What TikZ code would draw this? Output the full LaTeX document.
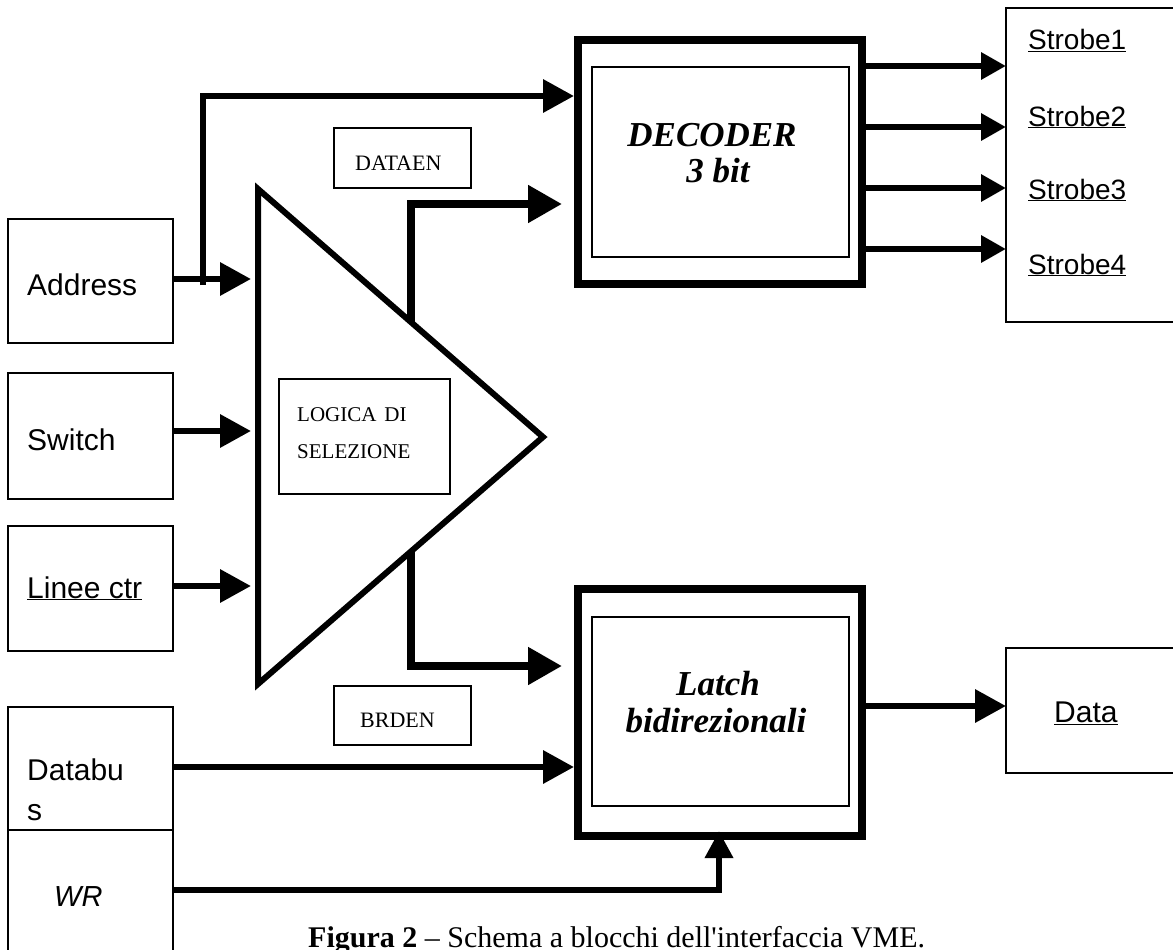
\documentclass[tikz,border=0pt]{standalone}
\usepackage{fontspec}
\setmainfont{Liberation Serif}
\newfontfamily\arialf{Liberation Sans}
\usetikzlibrary{arrows.meta,calc}
\begin{document}
\begin{tikzpicture}[x=1pt,y=-1pt,
  thinbox/.style={draw, line width=1.8pt, outer sep=0pt, inner sep=0pt, anchor=north west},
  thickbox/.style={draw, line width=8pt, outer sep=0pt, inner sep=0pt, anchor=north west},
  inbox/.style={draw, line width=1.5pt, outer sep=0pt, inner sep=0pt, anchor=north west},
  wire/.style={line width=6.5pt, line join=miter},
  conn/.style={wire, -{Triangle[length=31pt,width=32pt]}},
  bigconn/.style={line width=8pt, line join=miter, -{Triangle[length=34pt,width=36pt]}},
  smallconn/.style={wire, -{Triangle[length=25pt,width=26pt]}},
  upconn/.style={wire, -{Triangle[length=27pt,width=27pt]}},
  sanslbl/.style={font=\arialf\fontsize{30}{40}\selectfont, inner sep=0pt, anchor=base west, align=left},
  strobelbl/.style={font=\arialf\fontsize{28}{34}\selectfont, inner sep=0pt, anchor=base west},
  smalllbl/.style={font=\fontsize{21}{25}\selectfont, inner sep=0pt, anchor=base west},
  biglbl/.style={font=\bfseries\itshape\fontsize{35}{40}\selectfont, inner sep=0pt, anchor=base},
]
\useasboundingbox (0,0) rectangle (1173,950);

% left input boxes
\node[thinbox, minimum width=165pt, minimum height=124pt] (addr) at (8,219) {};
\node[thinbox, minimum width=165pt, minimum height=126pt] (sw) at (8,373) {};
\node[thinbox, minimum width=165pt, minimum height=125pt] (lin) at (8,526) {};
\node[thinbox, minimum width=165pt, minimum height=123pt] (db) at (8,707) {};
\node[thinbox, minimum width=165pt, minimum height=135pt] (wr) at (8,830) {};

\node[sanslbl] (taddr) at (27,295) {Address};
\node[sanslbl] (tsw) at (27,450) {Switch};
\node[sanslbl] (tlin) at (27,598) {\underline{Linee ctr}};
\node[sanslbl] (tdb1) at (27,780) {Databu};
\node[sanslbl] (tdb2) at (27,820) {s};
\node[sanslbl, font=\arialf\itshape\fontsize{29}{34}\selectfont] (twr) at (54,906) {WR};

% selection logic triangle
\coordinate (tT) at (258,189);
\coordinate (tR) at (543,437);
\coordinate (tB) at (258,684);
\draw[line width=6pt, line join=miter] (tT) -- (tR) -- (tB) -- cycle;
\node[thinbox, line width=1.6pt, minimum width=171pt, minimum height=115pt] (logb) at (279,379) {};
\node[smalllbl] (tlog1) at (297,421) {LOGICA\hspace{8pt}DI};
\node[smalllbl] (tlog2) at (297,458) {SELEZIONE};

% signal labels
\node[thinbox, line width=1.6pt, minimum width=137pt, minimum height=60pt] (daen) at (334,128) {};
\node[smalllbl, font=\fontsize{22}{26}\selectfont] (tdaen) at (355,170) {DATAEN};
\node[thinbox, line width=1.6pt, minimum width=137pt, minimum height=59pt] (brd) at (334,686) {};
\node[smalllbl, font=\fontsize{22}{26}\selectfont] (tbrd) at (360,727) {BRDEN};

% decoder
\node[thickbox, minimum width=284pt, minimum height=244pt] (dec) at (578,40) {};
\node[inbox, minimum width=257pt, minimum height=190pt] (deci) at (592,67) {};
\node[biglbl] (tdec1) at (712,146) {DECODER};
\node[biglbl] (tdec2) at (718,182) {3 bit};

% latch
\node[thickbox, minimum width=284pt, minimum height=247pt] (lat) at (578,589) {};
\node[inbox, minimum width=257pt, minimum height=189pt] (lati) at (592,617) {};
\node[biglbl] (tlat1) at (718,695) {Latch};
\node[biglbl] (tlat2) at (716,732) {bidirezionali};

% outputs
\node[thinbox, minimum width=200pt, minimum height=314pt] (stb) at (1006,8) {};
\node[strobelbl] (ts1) at (1028,50) {\underline{Strobe1}};
\node[strobelbl] (ts2) at (1028,126) {\underline{Strobe2}};
\node[strobelbl] (ts3) at (1028,199) {\underline{Strobe3}};
\node[strobelbl] (ts4) at (1028,274) {\underline{Strobe4}};
\node[thinbox, minimum width=200pt, minimum height=125pt] (dat) at (1006,648) {};
\node[sanslbl] (tdat) at (1054,722) {\underline{Data}};

% connectors into the triangle
\coordinate (tA) at (251,279);
\coordinate (tS) at (251,431);
\coordinate (tL) at (251,586);
\draw[conn] (tA -| addr.east) -- (tA);
\draw[conn] (tS -| sw.east) -- (tS);
\draw[conn] (tL -| lin.east) -- (tL);

% address branch to decoder
\coordinate (br) at (203,285);
\coordinate (brt) at (203,96);
\draw[conn, shorten >=4pt] (br) -- (brt) -- (brt -| dec.west);

% triangle outputs
\coordinate (o1) at (411,322);
\coordinate (o1t) at (411,204);
\draw[bigconn, shorten >=16pt] (o1) -- (o1t) -- (o1t -| dec.west);
\coordinate (o2) at (411,551);
\coordinate (o2b) at (411,666);
\draw[bigconn, shorten >=16pt] (o2) -- (o2b) -- (o2b -| lat.west);

% databus and WR
\coordinate (dbl) at (173,767);
\draw[conn, shorten >=4pt] (dbl) -- (dbl -| lat.west);
\coordinate (wrc) at (719,890);
\draw[upconn] (wrc -| wr.east) -- (wrc) -- ($(wrc |- lat.south)+(0,-5)$);

% decoder outputs
\foreach \yy/\nm in {66/s1,127/s2,188/s3,249/s4}{
  \coordinate (\nm) at (862,\yy);
  \draw[smallconn] (\nm) -- (\nm -| stb.west);
}
% latch to data
\coordinate (ld) at (862,706);
\draw[conn] (ld) -- (ld -| dat.west);

% caption
\node[inner sep=0pt, anchor=base west, font=\fontsize{30}{36}\selectfont] (cap) at (308,947) {\textbf{Figura 2} -- Schema a blocchi dell\textquotesingle interfaccia VME.};
\end{tikzpicture}
\end{document}
